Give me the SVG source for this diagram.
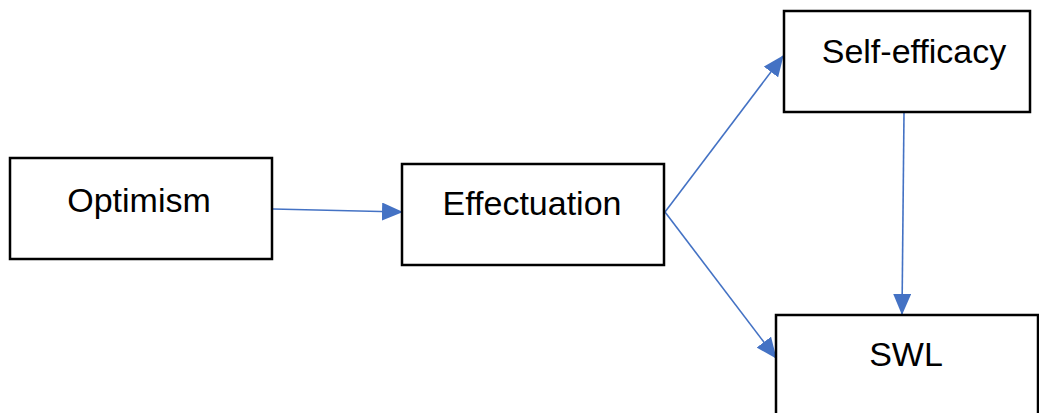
<svg xmlns="http://www.w3.org/2000/svg" width="1039" height="413" viewBox="0 0 1039 413">
<style>
.box{fill:#fff;stroke:#000;stroke-width:2.5}
.lbl{font-family:"Liberation Sans",Arial,sans-serif;font-size:34px;fill:#000;text-anchor:middle}
.conn{stroke:#4472C4;stroke-width:1.6;fill:none;marker-end:url(#ah)}
</style>
<defs>
<marker id="ah" markerWidth="21" markerHeight="18" refX="20" refY="9" orient="auto" markerUnits="userSpaceOnUse">
<path d="M0,0 L21,9 L0,18 Z" fill="#4472C4"/>
</marker>
</defs>
<rect width="1039" height="413" fill="#fff"/>
<g id="connectors">
<line class="conn" x1="273" y1="209" x2="402" y2="212"/>
<line class="conn" x1="665" y1="212" x2="783" y2="56"/>
<line class="conn" x1="665" y1="212" x2="776" y2="358"/>
<line class="conn" x1="904" y1="113" x2="902" y2="314"/>
</g>
<g id="optimism">
<rect class="box" x="10" y="158" width="262" height="101"/>
<text class="lbl" x="139" y="212">Optimism</text>
</g>
<g id="effectuation">
<rect class="box" x="402" y="164" width="262" height="101"/>
<text class="lbl" x="532" y="215">Effectuation</text>
</g>
<g id="self-efficacy">
<rect class="box" x="784" y="11" width="246" height="101"/>
<text class="lbl" x="914" y="63">Self-efficacy</text>
</g>
<g id="swl">
<rect class="box" x="776" y="315" width="262" height="110"/>
<text class="lbl" x="906" y="366">SWL</text>
</g>
</svg>
